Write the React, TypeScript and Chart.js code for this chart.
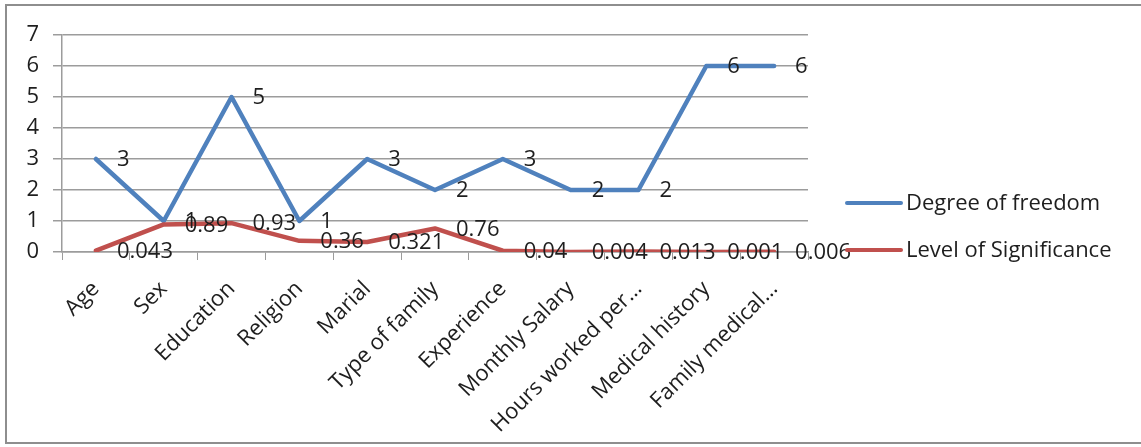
import React, { useEffect, useRef } from "react";
import { Chart, registerables } from "chart.js";

Chart.register(...registerables);

const categories = [
  "Age",
  "Sex",
  "Education",
  "Religion",
  "Marial",
  "Type of family",
  "Experience",
  "Monthly Salary",
  "Hours worked per…",
  "Medical history",
  "Family medical…",
];
const degreeOfFreedom = [3, 1, 5, 1, 3, 2, 3, 2, 2, 6, 6];
const levelOfSignificance = [0.043, 0.89, 0.93, 0.36, 0.321, 0.76, 0.04, 0.004, 0.013, 0.001, 0.006];
const seriesNames = ["Degree of freedom", "Level of Significance"];
const seriesColors = ["#4F81BD", "#C0504D"];
const yTicks = [0, 1, 2, 3, 4, 5, 6, 7];

const FONT = "'Open Sans', 'DejaVu Sans', sans-serif";
const TEXT = "#1e1e1e";
const GRID = "#9c9c9c";

const framePlugin = {
  id: "frame",
  beforeDraw(chart: any) {
    const ctx = chart.ctx;
    ctx.save();
    ctx.strokeStyle = "#8e8e8e";
    ctx.lineWidth = 2;
    ctx.strokeRect(6, 5, 1150, 438);
    ctx.restore();
  },
};

const labelsPlugin = {
  id: "valueLabels",
  afterDatasetsDraw(chart: any) {
    const ctx = chart.ctx;
    ctx.save();
    ctx.font = `22px ${FONT}`;
    ctx.fillStyle = TEXT;
    ctx.textAlign = "left";
    ctx.textBaseline = "middle";
    chart.data.datasets.forEach((ds: any, i: number) => {
      const meta = chart.getDatasetMeta(i);
      meta.data.forEach((pt: any, j: number) => {
        ctx.fillText(String(ds.data[j]), pt.x + 21, pt.y + 1);
      });
    });
    ctx.restore();
  },
};

const legendPlugin = {
  id: "customLegend",
  afterDraw(chart: any) {
    const ctx = chart.ctx;
    const area = chart.chartArea;
    const x0 = area.right + 39;
    const ys = [203, 250];
    ctx.save();
    chart.data.datasets.forEach((ds: any, i: number) => {
      const y = ys[i];
      ctx.strokeStyle = ds.borderColor;
      ctx.lineWidth = 4;
      ctx.lineCap = "round";
      ctx.beginPath();
      ctx.moveTo(x0, y);
      ctx.lineTo(x0 + 54, y);
      ctx.stroke();
      ctx.font = `22px ${FONT}`;
      ctx.fillStyle = TEXT;
      ctx.textAlign = "left";
      ctx.textBaseline = "middle";
      ctx.fillText(ds.label, x0 + 59, y + 1);
    });
    ctx.restore();
  },
};

export default function App() {
  const ref = useRef<HTMLCanvasElement | null>(null);
  useEffect(() => {
    if (!ref.current) return;
    const chart = new Chart(ref.current, {
      type: "line",
      data: {
        labels: categories,
        datasets: [
          {
            label: seriesNames[0],
            data: degreeOfFreedom,
            borderColor: seriesColors[0],
            backgroundColor: seriesColors[0],
            borderWidth: 4.5,
            pointRadius: 0,
            tension: 0,
            borderJoinStyle: "round",
            borderCapStyle: "round",
            order: 1,
          },
          {
            label: seriesNames[1],
            data: levelOfSignificance,
            borderColor: seriesColors[1],
            backgroundColor: seriesColors[1],
            borderWidth: 4.5,
            pointRadius: 0,
            tension: 0,
            borderJoinStyle: "round",
            borderCapStyle: "round",
            order: 0,
          },
        ],
      },
      options: {
        animation: false,
        responsive: false,
        maintainAspectRatio: false,
        devicePixelRatio: 1,
        layout: { padding: { top: 35, right: 333, left: 0, bottom: 0 } },
        plugins: { legend: { display: false }, tooltip: { enabled: false } },
        scales: {
          x: {
            type: "category",
            offset: true,
            afterFit: (s: any) => {
              s.height = 195;
            },
            grid: {
              offset: true,
              drawOnChartArea: false,
              drawTicks: true,
              tickLength: 8,
              color: GRID,
            },
            border: { display: true, color: GRID, width: 1.5 },
            ticks: {
              autoSkip: false,
              maxRotation: 45,
              minRotation: 45,
              padding: 16,
              color: TEXT,
              font: { family: FONT, size: 22 },
            },
          },
          y: {
            min: 0,
            max: 7,
            afterFit: (s: any) => {
              s.width = 62;
            },
            afterBuildTicks: (s: any) => {
              s.ticks = yTicks.map((v) => ({ value: v }));
            },
            grid: { color: GRID, lineWidth: 1.5, tickLength: 9, drawTicks: true },
            border: { display: true, color: GRID, width: 1.5 },
            ticks: {
              padding: 14,
              color: TEXT,
              font: { family: FONT, size: 22 },
            },
          },
        },
      },
      plugins: [framePlugin, labelsPlugin, legendPlugin],
    });
    return () => chart.destroy();
  }, []);
  return (
    <div style={{ position: "fixed", left: 0, top: 0, width: 1141, height: 447, background: "#fff" }}>
      <canvas ref={ref} width={1141} height={447} style={{ width: 1141, height: 447, display: "block" }} />
    </div>
  );
}
